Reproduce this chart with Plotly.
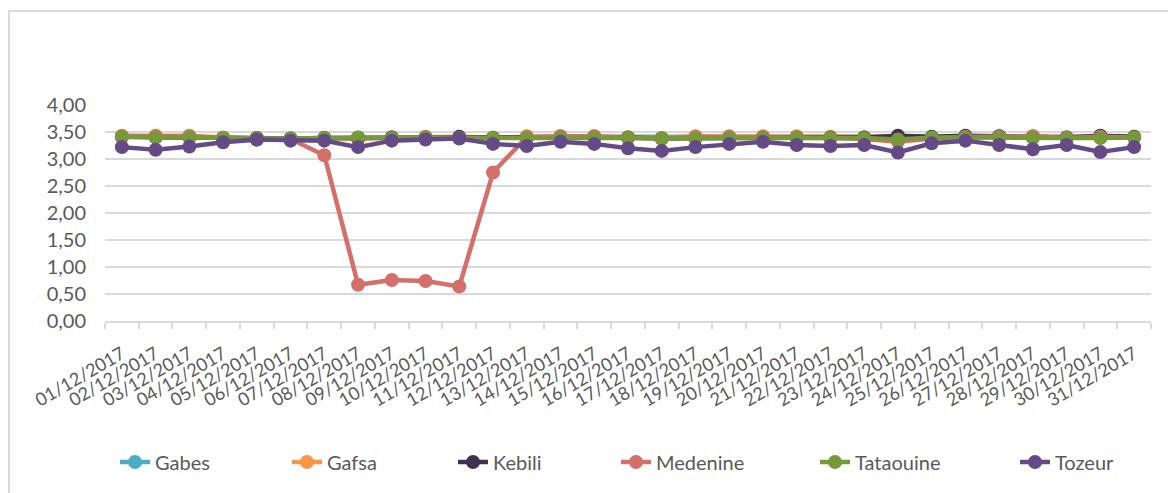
import plotly.graph_objects as go

# Daily values per governorate, December 2017
dates = [f"{d:02d}/12/2017" for d in range(1, 32)]

gabes = [3.41, 3.41, 3.41, 3.39, 3.39, 3.38, 3.39, 3.40, 3.40, 3.40, 3.40,
         3.39, 3.40, 3.41, 3.41, 3.40, 3.39, 3.40, 3.40, 3.40, 3.40, 3.39,
         3.40, 3.41, 3.40, 3.41, 3.41, 3.41, 3.40, 3.41, 3.41]
gafsa = [3.43, 3.43, 3.43, 3.40, 3.38, 3.37, 3.39, 3.37, 3.40, 3.41, 3.41,
         3.40, 3.42, 3.42, 3.42, 3.40, 3.39, 3.42, 3.42, 3.42, 3.42, 3.41,
         3.40, 3.41, 3.40, 3.42, 3.42, 3.42, 3.40, 3.42, 3.41]
kebili = [3.41, 3.40, 3.40, 3.39, 3.39, 3.38, 3.39, 3.39, 3.40, 3.40, 3.41,
          3.39, 3.39, 3.40, 3.40, 3.40, 3.38, 3.39, 3.39, 3.40, 3.40, 3.40,
          3.40, 3.43, 3.41, 3.43, 3.42, 3.41, 3.40, 3.43, 3.41]
medenine = [3.42, 3.42, 3.42, 3.39, 3.36, 3.37, 3.07, 0.67, 0.76, 0.74, 0.64,
            2.75, 3.41, 3.42, 3.42, 3.39, 3.38, 3.41, 3.41, 3.41, 3.40, 3.39,
            3.37, 3.32, 3.38, 3.41, 3.41, 3.42, 3.39, 3.41, 3.40]
tataouine = [3.41, 3.40, 3.40, 3.39, 3.39, 3.38, 3.39, 3.40, 3.39, 3.40, 3.39,
             3.39, 3.39, 3.40, 3.40, 3.40, 3.38, 3.38, 3.39, 3.39, 3.39, 3.39,
             3.39, 3.36, 3.40, 3.40, 3.39, 3.39, 3.39, 3.39, 3.40]
tozeur = [3.22, 3.17, 3.23, 3.31, 3.36, 3.34, 3.34, 3.22, 3.34, 3.36, 3.38,
          3.28, 3.24, 3.32, 3.28, 3.20, 3.15, 3.22, 3.28, 3.32, 3.26, 3.24,
          3.26, 3.12, 3.29, 3.34, 3.26, 3.18, 3.26, 3.13, 3.22]

names = ["Gabes", "Gafsa", "Kebili", "Medenine", "Tataouine", "Tozeur"]
series = [gabes, gafsa, kebili, medenine, tataouine, tozeur]
colors = ["#4BACC6", "#F79646", "#403152", "#D46F6A", "#77993A", "#644B87"]

W, H = 1168, 493
L, R, T, B = 105, 17, 105, 172
plot_w = W - L - R
plot_h = H - T - B

FONT = "Lato"
GREY = "#595959"
LINE = "#D9D9D9"

# legend text starts (px) and vertical centre (px)
legend_text_x = [155, 327, 493, 656, 855, 1055]
legend_y_px = 462


def px_to_paper_x(px):
    return (px - L) / plot_w


def px_to_paper_y(py):
    return (H - B - py) / plot_h


fig = go.Figure()
legend_layouts = {}
for i, (name, vals, col) in enumerate(zip(names, series, colors)):
    key = "legend" if i == 0 else f"legend{i + 1}"
    fig.add_trace(go.Scatter(
        x=dates, y=vals, name=name, mode="lines+markers",
        line=dict(color=col, width=4.5),
        marker=dict(color=col, size=14),
        legend=key,
    ))
    legend_layouts[key] = dict(
        x=px_to_paper_x(legend_text_x[i] - 40), xanchor="left",
        y=px_to_paper_y(legend_y_px), yanchor="middle",
        orientation="h", bgcolor="rgba(0,0,0,0)",
        font=dict(family=FONT, size=20, color=GREY),
        itemwidth=30,
    )

fig.update_layout(
    width=W, height=H,
    margin=dict(l=L, r=R, t=T, b=B),
    paper_bgcolor="white", plot_bgcolor="white",
    separators=", ",
    font=dict(family=FONT, color=GREY),
    showlegend=True,
    **legend_layouts,
)

fig.update_xaxes(
    type="category",
    range=[-0.5, len(dates) - 0.5],
    tickangle=-30,
    tickfont=dict(family=FONT, size=18, color=GREY),
    showgrid=False,
    showline=True, linecolor=LINE, linewidth=1.5,
    ticks="outside", tickson="boundaries", ticklen=6, tickcolor=LINE,
    tickwidth=1.5,
    ticklabelstandoff=14,
)
fig.update_yaxes(
    range=[0, 4], dtick=0.5, tickformat=".2f",
    tickfont=dict(family=FONT, size=20, color=GREY),
    showgrid=True, gridcolor=LINE, gridwidth=1.5,
    zeroline=False, showline=False, ticks="",
    ticklabelstandoff=18,
)

# outer chart frame (partially outside the visible page)
fig.add_shape(
    type="rect", xref="paper", yref="paper",
    x0=px_to_paper_x(9), x1=px_to_paper_x(W + 20),
    y0=px_to_paper_y(H + 20), y1=px_to_paper_y(11),
    line=dict(color=LINE, width=2), fillcolor="rgba(0,0,0,0)",
    layer="below",
)

fig.write_html("out.html")
